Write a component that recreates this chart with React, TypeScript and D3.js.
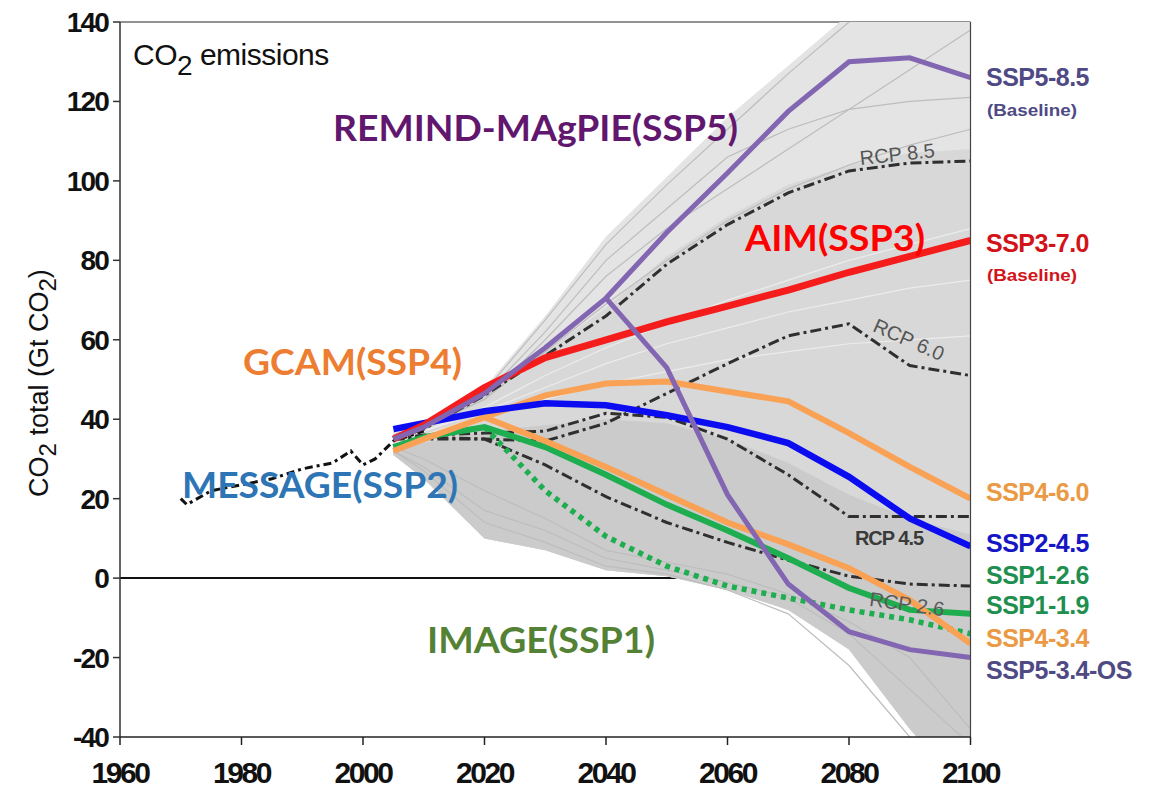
import React from "react";
import * as d3 from "d3";

// ---- axes ----
const yearTicks = [1960, 1980, 2000, 2020, 2040, 2060, 2080, 2100];
const valueTicks = [-40, -20, 0, 20, 40, 60, 80, 100, 120, 140];

// ---- historical emissions (Gt CO2) ----
const histYears = [1970, 1971, 1975, 1980, 1985, 1990, 1995, 1998, 2000, 2002, 2005, 2010];
const histValues = [20, 18.5, 22, 23.5, 25, 27.5, 29, 32, 28.5, 30, 34.5, 37];

// ---- scenario years ----
const scenYears = [2005, 2010, 2020, 2030, 2040, 2050, 2060, 2070, 2080, 2090, 2100];
const lateYears = [2020, 2030, 2040, 2050, 2060, 2070, 2080, 2090, 2100];
const osYears = [2040, 2050, 2060, 2070, 2080, 2090, 2100];

// ---- SSP marker scenarios ----
const ssp585 = [35, 38, 46.5, 58, 70.5, 87, 102, 117.5, 130, 131, 126];
const ssp534os = [70.5, 53, 21, -1.5, -13.5, -18, -20];
const ssp370 = [35, 38.5, 48, 55.5, 60, 64.5, 68.5, 72.5, 77, 81, 85];
const ssp245 = [37.5, 39, 42, 44, 43.5, 41, 38, 34, 25.5, 15, 8];
const ssp460 = [32, 35, 40.5, 46, 49, 49.5, 47, 44.5, 36.5, 28, 20];
const ssp434 = [40.5, 34.5, 28, 21, 14, 8.5, 2.5, -5.5, -16.5];
const ssp126 = [33, 35.5, 38, 33, 26, 18.5, 12, 5, -2.5, -8, -9];
const ssp119 = [38, 22, 10.5, 3, -2, -5, -8, -10.5, -14];

// ---- RCP pathways ----
const rcp85 = [35, 37.5, 46, 56, 66, 79, 89, 97, 102.5, 104.5, 105];
const rcp60 = [35, 35.5, 35, 34.5, 39, 46.5, 54, 61, 64, 53.5, 51];
const rcp45 = [35, 36, 36.5, 37, 41.5, 40.5, 35, 26, 15.5, 15.5, 15.5];
const rcp26 = [35, 35, 35, 28.5, 20.5, 14, 9, 4.5, 0.5, -1.5, -2];

// ---- scenario database range ----
const rangeUpper = [37, 39, 48, 66, 86, 101, 116, 129, 142, 150, 155];
const rangeLower = [31, 25, 10, 7, 2, 0.5, -3, -8, -18, -38, -55];
const rangeMidUpper = [36, 38.5, 46, 57, 68, 81, 91, 99, 104, 107, 108];
const rangeDenseUpper = [33, 34, 37, 38.5, 40, 39, 35, 29, 21, 15, 11];

// ---- individual database runs ----
const runHigh1 = [36, 39, 47, 65, 84, 99, 113, 127, 140, 150, 156];
const runHigh2 = [36, 38.5, 46, 62, 80, 93, 106, 113, 118, 120, 121];
const runHigh3 = [36, 38, 45, 60, 76, 88, 98, 108, 118, 128, 138];
const runHigh4 = [35, 38, 45, 57, 69, 80, 90, 98, 104, 109, 113];
const runMid1 = [35, 37, 43, 51, 58, 64, 70, 75, 80, 84, 88];
const runMid2 = [35, 37, 42, 48, 54, 59, 63, 67, 70, 73, 75];
const runMid3 = [34, 36, 41, 45, 49, 52, 55, 57, 59, 60, 61];
const runLow1 = [32, 27, 14, 9, 3, 1, -3, -9, -22, -40, -52];
const runLow2 = [32, 28, 17, 12, 5, 2, -1, -5, -14, -28, -42];
const runLow3 = [33, 30, 22, 15, 7, 4, 1, -4, -11, -20, -38];

const W = 1157;
const H = 788;
const plot = { left: 120, right: 970.5, top: 22, bottom: 737 };

const x = d3.scaleLinear().domain([1960, 2100]).range([plot.left, plot.right]);
const y = d3.scaleLinear().domain([-40, 140]).range([plot.bottom, plot.top]);

type Pt = [number, number];
const zip = (years: number[], vals: number[]): Pt[] => years.map((yr, i) => [yr, vals[i]]);
const linePath = d3.line<Pt>().x((d) => x(d[0])).y((d) => y(d[1]));
const bandPath = (years: number[], lo: number[], hi: number[]) =>
  d3
    .area<number>()
    .x((i) => x(years[i]))
    .y0((i) => y(lo[i]))
    .y1((i) => y(hi[i]))(years.map((_, i) => i)) as string;

const sans = "'Liberation Sans', Arial, Helvetica, sans-serif";
const calib = "Lato, 'Open Sans', sans-serif";

const dashDot = "11 4 3 4";

export default function App() {
  const bgRuns = [runHigh1, runHigh2, runHigh3, runHigh4, runMid1, runMid2, runMid3, runLow1, runLow2, runLow3];

  const sspLabels = [
    { text: "SSP5-8.5", yPos: 86, color: "#4f4a84" },
    { text: "SSP3-7.0", yPos: 252, color: "#d3131a" },
    { text: "SSP4-6.0", yPos: 501, color: "#ea9a45" },
    { text: "SSP2-4.5", yPos: 552, color: "#1616c4" },
    { text: "SSP1-2.6", yPos: 584, color: "#1f8f4f" },
    { text: "SSP1-1.9", yPos: 614, color: "#1f8f4f" },
    { text: "SSP4-3.4", yPos: 647, color: "#ea9a45" },
    { text: "SSP5-3.4-OS", yPos: 679, color: "#4f4a84" },
  ];

  const modelLabels = [
    { text: "REMIND-MAgPIE(SSP5)", x0: 333, x1: 738, base: 141, color: "#62176f" },
    { text: "AIM(SSP3)", x0: 745, x1: 925, base: 251, color: "#ff0000" },
    { text: "GCAM(SSP4)", x0: 243, x1: 462, base: 375, color: "#ed7d31" },
    { text: "MESSAGE(SSP2)", x0: 182, x1: 458, base: 498, color: "#2e75b6" },
    { text: "IMAGE(SSP1)", x0: 427, x1: 655, base: 653, color: "#548235" },
  ];

  return (
    <svg width={W} height={H} viewBox={`0 0 ${W} ${H}`} style={{ display: "block", position: "absolute", left: 0, top: 0, background: "#fff" }}>
      <defs>
        <clipPath id="plotClip">
          <rect x={plot.left} y={plot.top} width={plot.right - plot.left} height={plot.bottom - plot.top} />
        </clipPath>
      </defs>

      {/* frame and zero line */}
      <line x1={plot.left} x2={plot.right} y1={plot.top} y2={plot.top} stroke="#6e6e6e" strokeWidth={1.5} />
      <line x1={plot.left} x2={plot.right} y1={y(0)} y2={y(0)} stroke="#111" strokeWidth={2} />

      <g clipPath="url(#plotClip)">
        {/* scenario range */}
        <path d={bandPath(scenYears, rangeLower, rangeUpper)} fill="#e4e4e4" />
        <path d={bandPath(scenYears, rangeLower, rangeMidUpper)} fill="#d8d8d8" />
        <path d={bandPath(scenYears, rangeLower, rangeDenseUpper)} fill="#cbcbcb" />
        {bgRuns.map((r, i) => (
          <path key={i} d={linePath(zip(scenYears, r)) as string} fill="none" stroke={i >= 4 && i <= 6 ? "#ececec" : "#bdbdbd"} strokeWidth={1.2} />
        ))}

        {/* historical */}
        <path d={linePath(zip(histYears, histValues)) as string} fill="none" stroke="#111" strokeWidth={3} strokeDasharray="8 4 3 4" />

        {/* RCPs */}
        {[rcp85, rcp60, rcp45, rcp26].map((r, i) => (
          <path key={i} d={linePath(zip(scenYears, r)) as string} fill="none" stroke="#2f2f2f" strokeWidth={3} strokeDasharray={dashDot} />
        ))}

        {/* SSP markers */}
        <path d={linePath(zip(lateYears, ssp119)) as string} fill="none" stroke="#1fae4f" strokeWidth={5.5} strokeDasharray="5 5" />
        <path d={linePath(zip(scenYears, ssp126)) as string} fill="none" stroke="#1fae4f" strokeWidth={6} />
        <path d={linePath(zip(lateYears, ssp434)) as string} fill="none" stroke="#f9a154" strokeWidth={6} />
        <path d={linePath(zip(scenYears, ssp460)) as string} fill="none" stroke="#f9a154" strokeWidth={6} />
        <path d={linePath(zip(scenYears, ssp245)) as string} fill="none" stroke="#0c0cf0" strokeWidth={6.5} />
        <path d={linePath(zip(scenYears, ssp370)) as string} fill="none" stroke="#f51c1c" strokeWidth={7} />
        <path d={linePath(zip(osYears, ssp534os)) as string} fill="none" stroke="#8366b2" strokeWidth={5} />
        <path d={linePath(zip(scenYears, ssp585)) as string} fill="none" stroke="#8366b2" strokeWidth={5} />
      </g>

      {/* right edge */}
      <line x1={plot.right} x2={plot.right} y1={plot.top} y2={plot.bottom} stroke="#444" strokeWidth={1.2} />

      {/* axes */}
      <line x1={plot.left} x2={plot.left} y1={plot.top} y2={plot.bottom} stroke="#333" strokeWidth={1.5} />
      <line x1={plot.left} x2={plot.right} y1={plot.bottom} y2={plot.bottom} stroke="#222" strokeWidth={1.5} />
      {valueTicks.map((v) => (
        <g key={v}>
          <line x1={plot.left - 7} x2={plot.left} y1={y(v)} y2={y(v)} stroke="#333" strokeWidth={1.5} />
          <text x={108} y={y(v) + 10} textAnchor="end" fontFamily={sans} fontWeight="bold" fontSize={28} letterSpacing={-1.8} fill="#111">
            {v}
          </text>
        </g>
      ))}
      {yearTicks.map((t) => (
        <g key={t}>
          <line x1={x(t)} x2={x(t)} y1={plot.bottom} y2={plot.bottom + 8} stroke="#222" strokeWidth={1.5} />
          <text x={x(t)} y={783} textAnchor="middle" fontFamily={sans} fontWeight="bold" fontSize={30} letterSpacing={-2.4} fill="#111">
            {t}
          </text>
        </g>
      ))}

      {/* axis title */}
      <text transform="translate(48,383) rotate(-90)" textAnchor="middle" fontFamily={sans} fontSize={27} fill="#111">
        CO<tspan dy={8} fontSize={24}>2</tspan>
        <tspan dy={-8}> total (Gt CO</tspan>
        <tspan dy={8} fontSize={24}>2</tspan>
        <tspan dy={-8}>)</tspan>
      </text>

      {/* panel title */}
      <text x={133} y={65} fontFamily={sans} fontSize={30} fill="#111" letterSpacing={-0.5}>
        CO<tspan dy={10} fontSize={28}>2</tspan>
        <tspan dy={-10}> emissions</tspan>
      </text>

      {/* RCP labels */}
      <text transform="translate(898,161) rotate(-6)" textAnchor="middle" fontFamily={sans} fontSize={20} fill="#555">RCP 8.5</text>
      <text transform="translate(906,346) rotate(24)" textAnchor="middle" fontFamily={sans} fontSize={20} fill="#555">RCP 6.0</text>
      <text x={889} y={545} textAnchor="middle" fontFamily={sans} fontWeight="bold" fontSize={20} fill="#3a3a3a" letterSpacing={-1}>RCP 4.5</text>
      <text transform="translate(906,611) rotate(8)" textAnchor="middle" fontFamily={sans} fontSize={20} fill="#5a5a5a">RCP 2.6</text>

      {/* model names */}
      {modelLabels.map((m) => (
        <text key={m.text} x={m.x0} y={m.base} fontFamily={calib} fontWeight="bold" fontSize={37} fill={m.color} textLength={m.x1 - m.x0} lengthAdjust="spacingAndGlyphs">
          {m.text}
        </text>
      ))}

      {/* scenario end labels */}
      {sspLabels.map((s) => (
        <text key={s.text} x={986} y={s.yPos} fontFamily={sans} fontWeight="bold" fontSize={25} fill={s.color} letterSpacing={-0.5}>
          {s.text}
        </text>
      ))}
      <text x={987} y={116} fontFamily={sans} fontWeight="bold" fontSize={17} fill="#4f4a84" textLength={90} lengthAdjust="spacingAndGlyphs">(Baseline)</text>
      <text x={987} y={281} fontFamily={sans} fontWeight="bold" fontSize={17} fill="#d3131a" textLength={90} lengthAdjust="spacingAndGlyphs">(Baseline)</text>
    </svg>
  );
}
